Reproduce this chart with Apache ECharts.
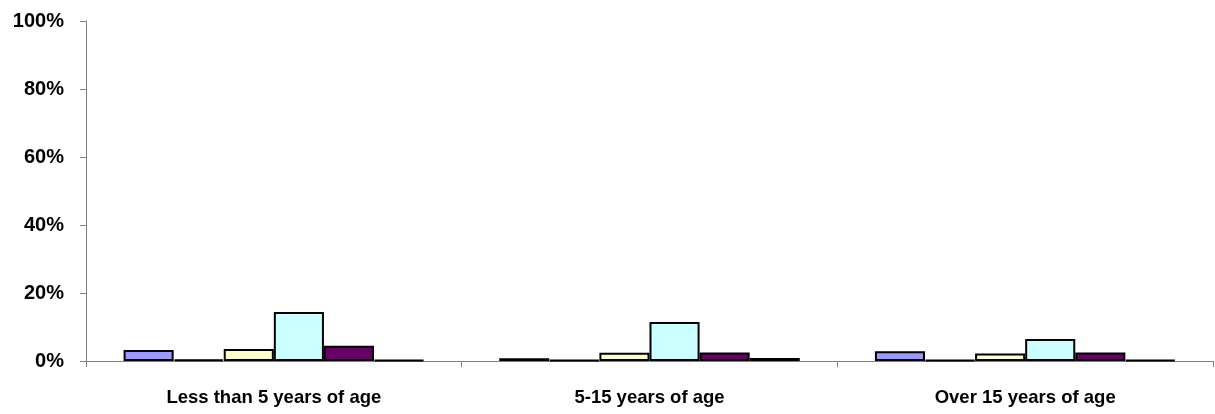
<!DOCTYPE html>
<html><head><meta charset="utf-8">
<script src="https://cdn.jsdelivr.net/npm/echarts@6/dist/echarts.min.js"></script>
<style>html,body{margin:0;padding:0;background:#fff}#c{width:1215px;height:414px}</style>
</head><body><div id="c"></div>
<script>
const categories = ['Less than 5 years of age', '5-15 years of age', 'Over 15 years of age'];
const s1 = [3.2, 0.8, 2.9];
const s2 = [0.5, 0.3, 0.3];
const s3 = [3.5, 2.4, 2.2];
const s4 = [14.4, 11.5, 6.5];
const s5 = [4.5, 2.5, 2.5];
const s6 = [0.3, 0.9, 0.3];
const colors = ['#9999FF', '#993366', '#FFFFCC', '#CCFFFF', '#660066', '#FF8080'];
const yTicks = [0, 20, 40, 60, 80, 100];

const chart = echarts.init(document.getElementById('c'));
const seriesData = [s1, s2, s3, s4, s5, s6];
chart.setOption({
  animation: false,
  grid: { left: 86, right: 2, top: 21, bottom: 53 },
  xAxis: {
    type: 'category', data: categories,
    axisLine: { lineStyle: { color: '#808080', width: 1 } },
    axisTick: { show: true, length: 6, lineStyle: { color: '#808080' } },
    axisLabel: { color: '#000', fontFamily: 'Liberation Sans, Arial', fontWeight: 'bold', fontSize: 18.5, margin: 27 }
  },
  yAxis: {
    type: 'value', min: 0, max: 100, interval: 20,
    axisLine: { show: true, lineStyle: { color: '#808080', width: 1 } },
    axisTick: { show: true, length: 6, lineStyle: { color: '#808080' } },
    splitLine: { show: false },
    axisLabel: { color: '#000', fontFamily: 'Liberation Sans, Arial', fontWeight: 'bold', fontSize: 20, margin: 22,
      formatter: v => yTicks.includes(v) ? v + '%' : '' }
  },
  series: seriesData.map((d, i) => ({
    type: 'bar', data: d, barGap: '0%', barCategoryGap: '20%',
    itemStyle: { color: colors[i], borderColor: '#000', borderWidth: 2 }
  }))
});
</script></body></html>
